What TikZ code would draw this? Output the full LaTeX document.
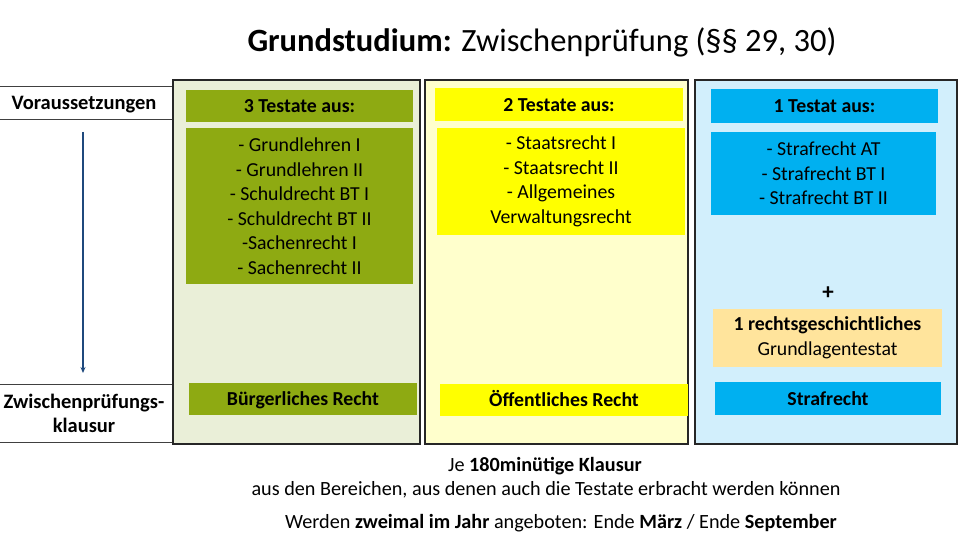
\documentclass[tikz,border=0pt]{standalone}
\usepackage{fontspec}
\setmainfont{Carlito}
\usetikzlibrary{arrows.meta}
\definecolor{cAbg}{HTML}{EAEFD8}
\definecolor{cA}{HTML}{8EAA12}
\definecolor{cBbg}{HTML}{FFFFCC}
\definecolor{cB}{HTML}{FFFF00}
\definecolor{cCbg}{HTML}{D2EFFC}
\definecolor{cC}{HTML}{00B0F0}
\definecolor{cO}{HTML}{FFE49C}
\definecolor{arrblue}{HTML}{1F497D}
\definecolor{lgray}{HTML}{404040}
\begin{document}
\begin{tikzpicture}[x=1pt,y=-1pt,
  colbox/.style={draw=black!85, line width=1.8pt, inner sep=0pt},
  fbox/.style={inner sep=0pt, align=center, font=\fontsize{19.8}{24.5}\selectfont},
  hbox/.style={fbox, font=\fontsize{19.8}{24.5}\selectfont\bfseries},
  one/.style={text height=13.5pt, text depth=0pt},
  lbl/.style={align=center, inner sep=0pt, font=\fontsize{20.5}{24}\selectfont\bfseries},
  tline/.style={draw=lgray, line width=0.9pt},
  txt/.style={inner sep=0pt, font=\fontsize{20.2}{24}\selectfont}
]
\useasboundingbox (0,0) rectangle (960,540);
\fill[white] (0,0) rectangle (960,540);

% title
\node[inner sep=0pt, font=\fontsize{32.5}{38}\selectfont] (title) at (542,42)
  {\textbf{Grundstudium:} Zwischenprüfung (§§ 29, 30)};

% left table
\draw[tline] (0,86) -- (173,86);
\draw[tline] (0,119) -- (173,119);
\draw[tline] (0,384) -- (173,384);
\draw[tline] (0,442) -- (173,442);
\node[lbl, one] (vor) at (84,103) {Voraussetzungen};
\node[lbl] (zpk) at (84,413) {Zwischenprüfungs-\\klausur};
\coordinate (atop) at (83,132);
\coordinate (abot) at (83,373);
\draw[arrblue, line width=1.8pt, -{Stealth[length=6pt,width=5pt]}] (atop) -- (abot);

% columns
\node[colbox, fill=cAbg, minimum width=247pt, minimum height=364pt] (col1) at (296.5,262) {};
\node[colbox, fill=cBbg, minimum width=263pt, minimum height=364pt] (col2) at (556.5,262) {};
\node[colbox, fill=cCbg, minimum width=262pt, minimum height=364pt] (col3) at (826,262) {};

% column 1
\node[hbox, one, fill=cA, minimum width=227pt, minimum height=32pt] (h1) at (299.5,106) {3 Testate aus:};
\node[fbox, fill=cA, minimum width=227pt, minimum height=156pt] (b1) at (299.5,206)
  {- Grundlehren I\\- Grundlehren II\\- Schuldrecht BT I\\- Schuldrecht BT II\\-Sachenrecht I\\- Sachenrecht II};
\node[hbox, one, fill=cA, minimum width=228pt, minimum height=32pt] (k1) at (303,399) {Bürgerliches Recht};

% column 2
\node[hbox, one, fill=cB, minimum width=248pt, minimum height=33pt] (h2) at (559,104.5) {2 Testate aus:};
\node[fbox, fill=cB, minimum width=248pt, minimum height=107pt] (b2) at (561,181.5)
  {- Staatsrecht I\\- Staatsrecht II\\- Allgemeines\\Verwaltungsrecht};
\node[hbox, one, fill=cB, minimum width=248pt, minimum height=32pt] (k2) at (564,400) {Öffentliches Recht};

% column 3
\node[hbox, one, fill=cC, minimum width=227pt, minimum height=34pt] (h3) at (824.5,106) {1 Testat aus:};
\node[fbox, fill=cC, minimum width=225pt, minimum height=83pt] (b3) at (823.5,173.5)
  {- Strafrecht AT\\- Strafrecht BT I\\- Strafrecht BT II};
\node[inner sep=0pt, font=\fontsize{23}{26}\selectfont\bfseries] (plus) at (828,293) {+};
\node[hbox, fill=cO, minimum width=229pt, minimum height=58pt] (o3) at (827.5,338)
  {1 rechtsgeschichtliches\\\mdseries Grundlagentestat};
\node[hbox, one, fill=cC, minimum width=226pt, minimum height=33pt] (k3) at (828,398.5) {Strafrecht};

% bottom text
\node[txt] (t1) at (545,466) {Je \textbf{180minütige Klausur}};
\node[txt] (t2) at (546,490) {aus den Bereichen, aus denen auch die Testate erbracht werden können};
\node[txt] (t3) at (561,523) {Werden \textbf{zweimal im Jahr} angeboten: Ende \textbf{März} / Ende \textbf{September}};
\end{tikzpicture}
\end{document}
